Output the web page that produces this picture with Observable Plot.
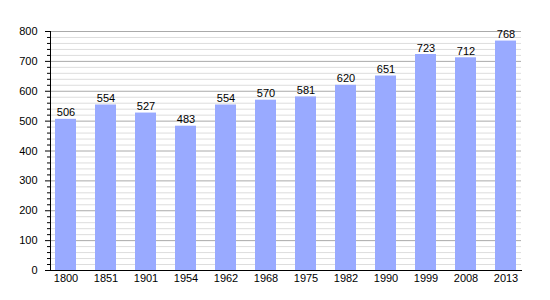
<!DOCTYPE html>
<html>
<head>
<meta charset="utf-8">
<script src="https://cdn.jsdelivr.net/npm/d3@7"></script>
<script src="https://cdn.jsdelivr.net/npm/@observablehq/plot@0.6"></script>
<style>
  html, body { margin: 0; padding: 0; background: white; }
</style>
</head>
<body>
<div id="chart"></div>
<script>
const years = ["1800", "1851", "1901", "1954", "1962", "1968", "1975", "1982", "1990", "1999", "2008", "2013"];
const population = [506, 554, 527, 483, 554, 570, 581, 620, 651, 723, 712, 768];
const majorTicks = [0, 100, 200, 300, 400, 500, 600, 700, 800];
const minorTicks = d3.range(0, 801, 20).filter(v => v % 100 !== 0);

const data = years.map((y, i) => ({year: y, pop: population[i]}));

const chart = Plot.plot({
  width: 550,
  height: 300,
  marginTop: 31,
  marginBottom: 30,
  marginLeft: 50,
  marginRight: 29,
  style: {fontFamily: "'Liberation Sans', Arial, sans-serif", fontSize: "11px", background: "white", color: "black"},
  x: {domain: years, paddingInner: 0.487, paddingOuter: 0, label: null},
  y: {domain: [0, 800], label: null},
  marks: [
    Plot.ruleY(minorTicks, {stroke: "#dddddd", strokeWidth: 1}),
    Plot.ruleY(majorTicks, {stroke: "#aaaaaa", strokeWidth: 1}),
    Plot.barY(data, {x: "year", y: "pop", fill: "#99aaff"}),
    Plot.text(data, {x: "year", y: "pop", text: d => String(d.pop), lineAnchor: "bottom", dy: -3, fill: "black", fontSize: 11}),
    Plot.axisY(majorTicks, {tickSize: 5, tickPadding: 8, label: null, fontSize: 11}),
    Plot.axisY(minorTicks, {tickSize: 3, text: null, label: null}),
    Plot.axisX({tickSize: 0, tickPadding: 4, label: null, fontSize: 11}),
    Plot.frame({anchor: "left", stroke: "black"}),
    Plot.frame({anchor: "bottom", stroke: "black"})
  ]
});
document.getElementById("chart").appendChild(chart);
</script>
</body>
</html>
